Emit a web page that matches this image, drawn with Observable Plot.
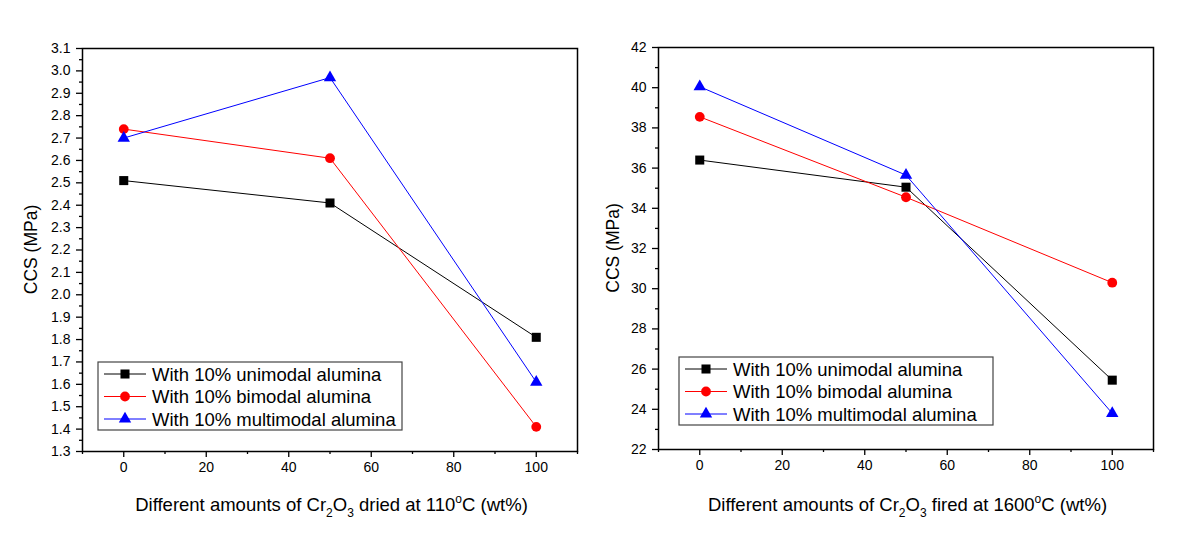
<!DOCTYPE html>
<html>
<head>
<meta charset="utf-8">
<script src="https://cdn.jsdelivr.net/npm/d3@7"></script>
<script src="https://cdn.jsdelivr.net/npm/@observablehq/plot@0.6"></script>
<style>
  html, body { margin: 0; padding: 0; background: #fff; }
  #wrap { display: flex; width: 1200px; height: 551px; }
  svg { font-family: "Liberation Sans", Arial, sans-serif; }
</style>
</head>
<body>
<div id="wrap"></div>
<script>
// ---- Data ----
const amounts = [0, 50, 100];
const seriesNames = ["With 10% unimodal alumina", "With 10% bimodal alumina", "With 10% multimodal alumina"];
const seriesColors = ["#000000", "#ff0000", "#0000ff"];
const seriesSymbols = ["square", "circle", "triangle"];

// Left panel: dried at 110 °C
const driedUnimodal = [2.51, 2.41, 1.81];
const driedBimodal = [2.74, 2.61, 1.41];
const driedMultimodal = [2.70, 2.97, 1.61];

// Right panel: fired at 1600 °C
const firedUnimodal = [36.4, 35.05, 25.45];
const firedBimodal = [38.55, 34.55, 30.3];
const firedMultimodal = [40.05, 35.65, 23.8];

const xMajorTicks = [0, 20, 40, 60, 80, 100];
const xMinorTicks = [-10, 10, 30, 50, 70, 90, 110];
const leftYMajorTicks = d3.range(13, 32).map(v => v / 10);
const leftYMinorTicks = d3.range(13, 31).map(v => v / 10 + 0.05);
const rightYMajorTicks = d3.range(22, 43, 2);
const rightYMinorTicks = d3.range(23, 42, 2);

function toRows(vals, si) {
  return amounts.map((a, i) => ({x: a, y: vals[i], s: seriesNames[si]}));
}

function makePanel(cfg) {
  const rows = [
    ...toRows(cfg.series[0], 0),
    ...toRows(cfg.series[1], 1),
    ...toRows(cfg.series[2], 2)
  ];
  const W = 600, H = 551;
  const symR = {square: 5.1, circle: 4.9, triangle: 4.6};
  const marks = [
    Plot.frame({stroke: "#000", strokeWidth: 1.5}),
    Plot.axisY({ticks: cfg.yMajor, tickSize: 6, tickPadding: 6, tickFormat: cfg.yFormat, fontSize: 14, label: null, strokeWidth: 1.3}),
    Plot.axisY({ticks: cfg.yMinor, tickSize: 3, tickFormat: () => "", label: null, strokeWidth: 1.3}),
    Plot.axisX({ticks: xMajorTicks, tickSize: 6, tickPadding: 5, fontSize: 14, label: null, strokeWidth: 1.3}),
    Plot.axisX({ticks: xMinorTicks, tickSize: 3, tickFormat: () => "", label: null, strokeWidth: 1.3}),
    Plot.line(rows, {x: "x", y: "y", z: "s", stroke: "s", strokeWidth: 1})
  ];
  seriesNames.forEach((name, i) => {
    marks.push(Plot.dot(rows.filter(d => d.s === name), {
      x: "x", y: "y", fill: seriesColors[i], stroke: "none",
      symbol: () => seriesSymbols[i], r: symR[seriesSymbols[i]]
    }));
  });
  const svg = Plot.plot({
    width: W, height: H,
    marginLeft: cfg.ml, marginRight: cfg.mr, marginTop: cfg.mt, marginBottom: cfg.mb,
    style: {fontFamily: '"Liberation Sans", Arial, sans-serif', color: "#000", background: "#fff", overflow: "visible"},
    x: {domain: [-10, 110]},
    y: {domain: cfg.yDomain},
    color: {domain: seriesNames, range: seriesColors},
    symbol: {domain: seriesSymbols, range: seriesSymbols},
    marks
  });

  const s = d3.select(svg);
  const plotLeft = cfg.ml, plotRight = W - cfg.mr, plotTop = cfg.mt, plotBottom = H - cfg.mb;
  // Y axis title
  s.append("text")
    .attr("transform", `translate(${cfg.yTitleX},${(plotTop + plotBottom) / 2}) rotate(-90)`)
    .attr("text-anchor", "middle")
    .attr("dy", "0.35em")
    .style("font-size", "17.5px")
    .attr("fill", "#000")
    .text("CCS (MPa)");
  // X axis title with sub/superscripts
  const xt = s.append("text")
    .attr("x", (plotLeft + plotRight) / 2 + cfg.xTitleDx)
    .attr("y", cfg.xTitleY)
    .attr("text-anchor", "middle")
    .style("font-size", "18.5px")
    .attr("fill", "#000");
  xt.append("tspan").text("Different amounts of Cr");
  xt.append("tspan").style("font-size", "12px").attr("dy", 6).text("2");
  xt.append("tspan").attr("dy", -6).text("O");
  xt.append("tspan").style("font-size", "12px").attr("dy", 6).text("3");
  xt.append("tspan").attr("dy", -6).text(cfg.xTitleMid);
  xt.append("tspan").style("font-size", "12px").attr("dy", -8).text("o");
  xt.append("tspan").attr("dy", 8).text("C (wt%)");

  // Legend
  const lg = s.append("g").attr("transform", `translate(${cfg.legX},${cfg.legY})`);
  lg.append("rect").attr("width", cfg.legW).attr("height", 68)
    .attr("fill", "#fff").attr("stroke", "#444").attr("stroke-width", 1.2);
  const symPaths = {
    square: d3.symbol(d3.symbolSquare, Math.PI * symR.square ** 2)(),
    circle: d3.symbol(d3.symbolCircle, Math.PI * symR.circle ** 2)(),
    triangle: d3.symbol(d3.symbolTriangle, Math.PI * symR.triangle ** 2)()
  };
  seriesNames.forEach((name, i) => {
    const cy = 12 + i * 22.5;
    lg.append("line").attr("x1", 6).attr("x2", 48).attr("y1", cy).attr("y2", cy)
      .attr("stroke", seriesColors[i]).attr("stroke-width", 1);
    lg.append("path").attr("d", symPaths[seriesSymbols[i]])
      .attr("transform", `translate(27,${cy})`).attr("fill", seriesColors[i]);
    lg.append("text").attr("x", 54).attr("y", cy).attr("dy", "0.36em")
      .attr("text-anchor", "start")
      .style("font-size", "18.5px").attr("fill", "#000").text(name);
  });
  return svg;
}

const wrap = document.getElementById("wrap");
wrap.appendChild(makePanel({
  series: [driedUnimodal, driedBimodal, driedMultimodal],
  yDomain: [1.3, 3.1], yMajor: leftYMajorTicks, yMinor: leftYMinorTicks,
  yFormat: d3.format(".1f"),
  ml: 82, mr: 23, mt: 48, mb: 100,
  yTitleX: 31, xTitleY: 511, xTitleDx: 2, xTitleMid: " dried at 110",
  legX: 98, legY: 362, legW: 304
}));
wrap.appendChild(makePanel({
  series: [firedUnimodal, firedBimodal, firedMultimodal],
  yDomain: [22, 42], yMajor: rightYMajorTicks, yMinor: rightYMinorTicks,
  yFormat: d3.format("d"),
  ml: 58, mr: 47, mt: 47, mb: 102,
  yTitleX: 13, xTitleY: 511, xTitleDx: 2, xTitleMid: " fired at 1600",
  legX: 79, legY: 357, legW: 314
}));
</script>
</body>
</html>
